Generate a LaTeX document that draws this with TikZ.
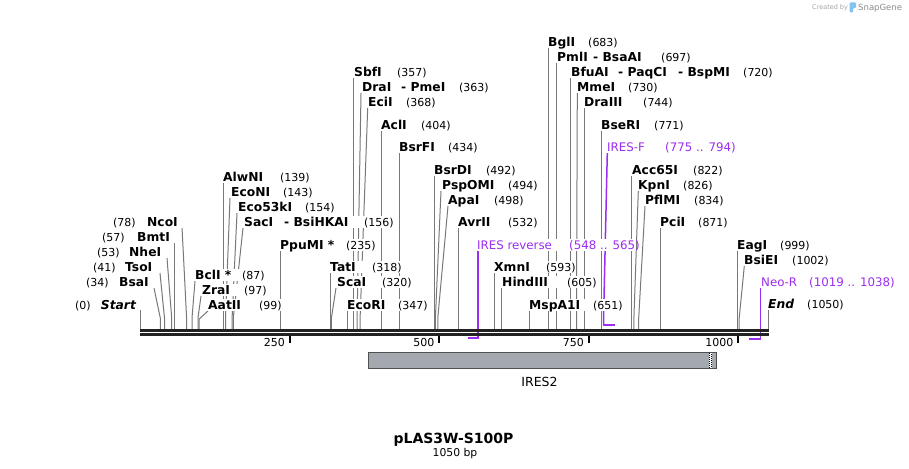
\documentclass[tikz,border=0pt]{standalone}
\usepackage{fontspec}
\setmainfont{DejaVu Sans}
\definecolor{lg}{RGB}{120,120,120}
\definecolor{pu}{RGB}{155,45,240}
\definecolor{bb}{RGB}{34,34,34}
\definecolor{fg}{RGB}{164,169,176}
\definecolor{fb}{RGB}{80,80,80}
\definecolor{logob}{RGB}{130,195,240}
\newcount\lc
\tikzset{
  nm/.style={font=\bfseries\fontsize{12.3}{12}\selectfont, anchor=base west, inner sep=0pt},
  nmi/.style={font=\bfseries\itshape\fontsize{12.3}{12}\selectfont, anchor=base west, inner sep=0pt},
  nu/.style={font=\fontsize{11}{11}\selectfont, anchor=base west, inner sep=0pt},
  pl/.style={font=\fontsize{11.8}{12}\selectfont, text=pu, anchor=base west, inner sep=0pt},
  ln/.style={draw=lg, line width=1pt},
  pln/.style={draw=pu, line width=1.5pt},
  tick/.style={draw=black, line width=2pt},
  ticklab/.style={font=\fontsize{11}{11}\selectfont, anchor=base east, inner sep=0pt},
}
\newcommand\wbox[3]{\fill[white] (#1-1,#3-6) rectangle (#2+1,#3+5.5);}
\newcommand\en[3]{\global\advance\lc by 1 \node[nm] (L\the\lc) at (#1,#2+4.5) {#3};}
\newcommand\ei[3]{\global\advance\lc by 1 \node[nmi] (L\the\lc) at (#1,#2+4.5) {#3};}
\newcommand\nn[3]{\global\advance\lc by 1 \node[nu] (L\the\lc) at (#1,#2+4.3) {#3};}
\newcommand\pp[3]{\global\advance\lc by 1 \node[pl] (L\the\lc) at (#1,#2+4.4) {#3};}
\begin{document}
\begin{tikzpicture}[x=1pt,y=-1pt]
\useasboundingbox (0,0) rectangle (909,468);
\fill[white] (0,0) rectangle (909,468);

% ---------- connector lines ----------
\draw[ln] (140.6,310) -- (140.6,329);
\draw[ln] (154,288) -- (160.3,318) -- (160.3,329);
\draw[ln] (160,273) -- (164.5,318) -- (164.5,329);
\draw[ln] (167,258) -- (171.7,318) -- (171.7,329);
\draw[ln] (174.1,243) -- (174.1,329);
\draw[ln] (182,227) -- (186.6,318) -- (186.6,329);
\draw[ln] (195,281) -- (192,318) -- (192,329);
\draw[ln] (201,296) -- (198,318) -- (198,329);
\draw[ln] (208,311) -- (199.2,319) -- (199.2,329);
\draw[ln] (223.1,183) -- (223.1,329);
\draw[ln] (230,198) -- (225.5,318) -- (225.5,329);
\draw[ln] (237,213) -- (232.1,318) -- (232.1,329);
\draw[ln] (243,228) -- (233.3,318) -- (233.3,329);
\draw[ln] (280.5,251) -- (280.5,329);
\draw[ln] (330.2,273) -- (330.2,329);
\draw[ln] (336,288) -- (331.4,318) -- (331.4,329);
\draw[ln] (347.5,311) -- (347.5,329);
\draw[ln] (353.5,78) -- (353.5,329);
\draw[ln] (361,93) -- (357.1,318) -- (357.1,329);
\draw[ln] (367.7,108) -- (360.1,318) -- (360.1,329);
\draw[ln] (381.6,131) -- (381.6,329);
\draw[ln] (399.5,153) -- (399.5,329);
\draw[ln] (434.2,176) -- (434.2,329);
\draw[ln] (441,191) -- (435.4,318) -- (435.4,329);
\draw[ln] (448,206) -- (437.8,318) -- (437.8,329);
\draw[ln] (458.1,228) -- (458.1,329);
\draw[ln] (494.6,273) -- (494.6,329);
\draw[ln] (501.8,288) -- (501.8,329);
\draw[ln] (529.3,311) -- (529.3,329);
\draw[ln] (548.4,48) -- (548.4,329);
\draw[ln] (556.8,63) -- (556.8,329);
\draw[ln] (570.6,78) -- (570.6,329);
\draw[ln] (577.3,93) -- (576.5,318) -- (576.5,329);
\draw[ln] (584.9,108) -- (584.9,329);
\draw[ln] (601.1,131) -- (601.1,329);
\draw[ln] (631.5,176) -- (631.5,329);
\draw[ln] (638.3,191) -- (633.9,318) -- (633.9,329);
\draw[ln] (645,206) -- (638.7,318) -- (638.7,329);
\draw[ln] (660.8,228) -- (660.8,329);
\draw[ln] (737.4,251) -- (737.4,329);
\draw[ln] (744.3,266) -- (739.2,318) -- (739.2,329);
\draw[ln] (768,310) -- (768,329);

% primers
\draw[pln] (477.9,251) -- (477.9,338);
\draw[pu, line width=2pt] (478.6,338) -- (467.7,338);
\draw[pln] (607.3,153) -- (603.5,320) -- (603.5,325);
\draw[pu, line width=2pt] (602.8,325) -- (615,325);
\draw[pln] (760.7,288) -- (760.7,339);
\draw[pu, line width=2pt] (761.4,339) -- (749.4,339);

% ---------- backbone ----------
\draw[bb, line width=2.8pt] (140,330.3) -- (768.5,330.3);
\draw[bb, line width=2.8pt] (140,334.3) -- (768.5,334.3);
\draw[tick] (289.5,336) -- (289.5,343);
\draw[tick] (439,336) -- (439,343);
\draw[tick] (588.5,336) -- (588.5,343);
\draw[tick] (738,336) -- (738,343);
\node[ticklab] (t250) at (285,346) {250};
\node[ticklab] (t500) at (434.5,346) {500};
\node[ticklab] (t750) at (584,346) {750};
\node[ticklab] (t1000) at (733.5,346) {1000};

% ---------- feature ----------
\draw[draw=fb, fill=fg, line width=1pt] (368.5,352) rectangle (716.5,368);
\fill[white] (709,352.5) rectangle (712,367.5);
\draw[black, line width=1pt, dash pattern=on 1pt off 1pt] (709.5,352.5) -- (709.5,367.5);
\draw[black, line width=1pt, dash pattern=on 1pt off 1pt, dash phase=1pt] (711.5,352.5) -- (711.5,367.5);
\node[font=\fontsize{12.5}{12}\selectfont, anchor=base] (ires2) at (539.5,386.5) {IRES2};

% ---------- label backgrounds ----------
\wbox{76}{134}{305}
\wbox{87}{148}{282}
\wbox{94}{154}{267}
\wbox{98}{162}{252}
\wbox{103}{169}{237}
\wbox{114}{182}{222}
\wbox{195}{264}{275}
\wbox{202}{267}{290}
\wbox{208}{282}{305}
\wbox{223}{308}{177}
\wbox{231}{313}{192}
\wbox{238}{335}{207}
\wbox{244}{393}{222}
\wbox{280}{375}{245}
\wbox{330}{401}{267}
\wbox{337}{411}{282}
\wbox{347}{428}{305}
\wbox{354}{426}{72}
\wbox{362}{489}{87}
\wbox{368}{435}{102}
\wbox{381}{450}{125}
\wbox{399}{478}{147}
\wbox{434}{516}{170}
\wbox{442}{537}{185}
\wbox{448}{523}{200}
\wbox{458}{538}{222}
\wbox{477}{635}{245}
\wbox{494}{575}{267}
\wbox{502}{596}{282}
\wbox{529}{623}{305}
\wbox{548}{617}{42}
\wbox{557}{690}{57}
\wbox{571}{770}{72}
\wbox{577}{658}{87}
\wbox{584}{672}{102}
\wbox{601}{683}{125}
\wbox{607}{732}{147}
\wbox{632}{723}{170}
\wbox{638}{713}{185}
\wbox{645}{723}{200}
\wbox{660}{728}{222}
\wbox{737}{811}{245}
\wbox{744}{828}{260}
\wbox{761}{891}{282}
\wbox{768}{844}{304}

% ---------- labels ----------
\nn{75}{305}{(0)} \ei{100.7}{305}{Start}
\nn{86}{282}{(34)} \en{119}{282}{BsaI}
\nn{93}{267}{(41)} \en{125}{267}{TsoI}
\nn{97}{252}{(53)} \en{129}{252}{NheI}
\nn{102}{237}{(57)} \en{137}{237}{BmtI}
\nn{113}{222}{(78)} \en{147}{222}{NcoI}
\en{195}{275}{BclI *} \nn{242}{275}{(87)}
\en{202}{290}{ZraI} \nn{244}{290}{(97)}
\en{208}{305}{AatII} \nn{259}{305}{(99)}
\en{223}{177}{AlwNI} \nn{280}{177}{(139)}
\en{231}{192}{EcoNI} \nn{283}{192}{(143)}
\en{238}{207}{Eco53kI} \nn{305}{207}{(154)}
\en{244}{222}{SacI} \en{284}{222}{- BsiHKAI} \nn{364}{222}{(156)}
\en{280}{245}{PpuMI *} \nn{346}{245}{(235)}
\en{330}{267}{TatI} \nn{372}{267}{(318)}
\en{337}{282}{ScaI} \nn{382}{282}{(320)}
\en{347}{305}{EcoRI} \nn{398}{305}{(347)}
\en{354}{72}{SbfI} \nn{397}{72}{(357)}
\en{362}{87}{DraI} \en{401}{87}{- PmeI} \nn{459}{87}{(363)}
\en{368}{102}{EciI} \nn{406}{102}{(368)}
\en{381}{125}{AclI} \nn{421}{125}{(404)}
\en{399}{147}{BsrFI} \nn{448}{147}{(434)}
\en{434}{170}{BsrDI} \nn{486}{170}{(492)}
\en{442}{185}{PspOMI} \nn{508}{185}{(494)}
\en{448}{200}{ApaI} \nn{494}{200}{(498)}
\en{458}{222}{AvrII} \nn{508}{222}{(532)}
\pp{477}{245}{IRES reverse} \pp{569}{245}{(548 .. 565)}
\en{494}{267}{XmnI} \nn{546}{267}{(593)}
\en{502}{282}{HindIII} \nn{567}{282}{(605)}
\en{529}{305}{MspA1I} \nn{593}{305}{(651)}
\en{548}{42}{BglI} \nn{588}{42}{(683)}
\en{557}{57}{PmlI} \en{593}{57}{- BsaAI} \nn{661}{57}{(697)}
\en{571}{72}{BfuAI} \en{618}{72}{- PaqCI} \en{678}{72}{- BspMI} \nn{743}{72}{(720)}
\en{577}{87}{MmeI} \nn{628}{87}{(730)}
\en{584}{102}{DraIII} \nn{643}{102}{(744)}
\en{601}{125}{BseRI} \nn{654}{125}{(771)}
\pp{607}{147}{IRES-F} \pp{665}{147}{(775 .. 794)}
\en{632}{170}{Acc65I} \nn{693}{170}{(822)}
\en{638}{185}{KpnI} \nn{683}{185}{(826)}
\en{645}{200}{PflMI} \nn{694}{200}{(834)}
\en{660}{222}{PciI} \nn{698}{222}{(871)}
\en{737}{245}{EagI} \nn{780}{245}{(999)}
\en{744}{260}{BsiEI} \nn{792}{260}{(1002)}
\pp{761}{282}{Neo-R} \pp{809}{282}{(1019 .. 1038)}
\ei{768}{304}{End} \nn{807}{304}{(1050)}

% ---------- title ----------
\node[font=\bfseries\fontsize{14}{14}\selectfont, anchor=base] (title) at (453.5,443) {pLAS3W-S100P};
\node[font=\fontsize{10.8}{10}\selectfont, anchor=base] (bp) at (455,456) {1050 bp};

% ---------- credit ----------
\node[font=\fontsize{6.5}{6}\selectfont, text=black!35, anchor=base west, inner sep=0pt] (cr) at (812,10) {Created by};
\fill[logob, rounded corners=1pt] (849.5,2.5) -- (856,2.5) -- (856,8) -- (853,8) -- (853,12.5) -- (849.5,12.5) -- cycle;
\node[font=\fontsize{8.5}{8}\selectfont, text=black!45, anchor=base west, inner sep=0pt] (sg) at (858,10.5) {SnapGene};
\end{tikzpicture}
\end{document}
